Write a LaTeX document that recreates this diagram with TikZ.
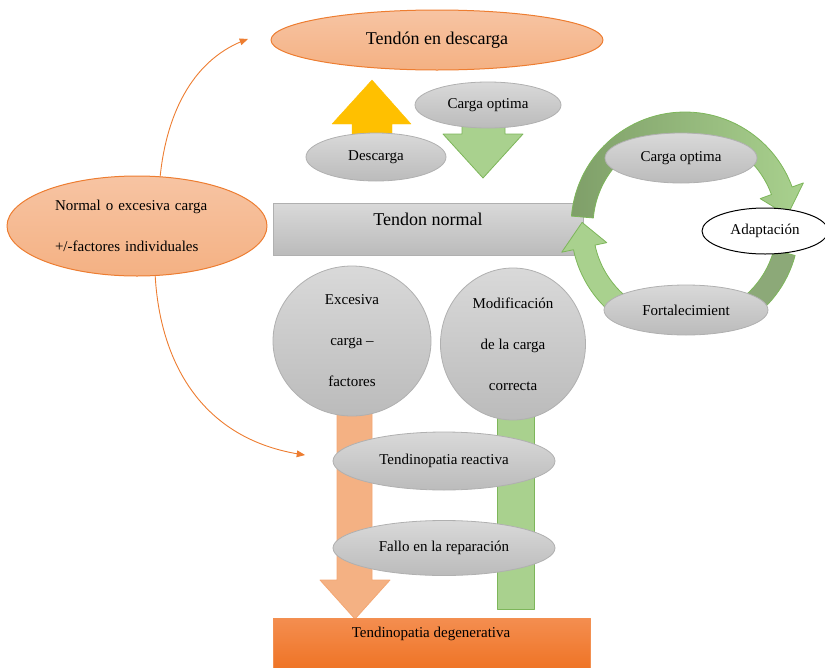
\documentclass[tikz,border=0pt]{standalone}
\usepackage{fontspec}
\setmainfont{Liberation Serif}
\usepackage{tikz}
\usetikzlibrary{arrows,shapes.geometric}

\definecolor{salmon}{HTML}{F4B183}
\definecolor{salmonlt}{HTML}{F7C4A3}
\definecolor{naranjaborde}{HTML}{ED7D31}
\definecolor{naranja}{HTML}{EF7426}
\definecolor{naranjalt}{HTML}{F48E50}
\definecolor{grisclaro}{HTML}{D9D9D9}
\definecolor{grisoscuro}{HTML}{BBBBBB}
\definecolor{grisborde}{HTML}{B0B0B0}
\definecolor{verdeclaro}{HTML}{A9D18E}
\definecolor{verdeborde}{HTML}{7DB65A}
\definecolor{verdeoscuro}{HTML}{7F9F69}
\definecolor{amarillo}{HTML}{FFC000}

\tikzset{
  elnaranja/.style={ellipse, draw=naranjaborde, line width=1pt, top color=salmonlt, bottom color=salmon, inner sep=0pt},
  elgris/.style={ellipse, draw=grisborde, line width=0.8pt, top color=grisclaro, bottom color=grisoscuro, inner sep=0pt},
  txtgrande/.style={font=\fontsize{18}{22}\selectfont},
  txtchico/.style={font=\fontsize{15}{41}\selectfont},
  flechaverde/.style={draw=verdeborde, fill=verdeclaro, line width=0.8pt},
  curva/.style={->, draw=naranjaborde, line width=0.9pt}
}

\begin{document}
\begin{tikzpicture}[line cap=round,line join=round,>=triangle 45,x=1pt,y=-1pt]
\useasboundingbox (0,0) rectangle (825,667);

% flechas de bloque
\draw [draw=amarillo, fill=amarillo] (352,140) -- (352,124) -- (332,124) -- (372,80) -- (411,124) -- (392,124) -- (392,140) -- cycle;
\draw [flechaverde] (462,110) -- (462,134) -- (443,134) -- (483,178) -- (523,134) -- (505,134) -- (505,110) -- cycle;
\draw [draw=salmon!80!naranjaborde, fill=salmon, line width=0.8pt] (337,405) -- (337,580) -- (320,580) -- (355,619) -- (390,580) -- (372,580) -- (372,405) -- cycle;
\draw [flechaverde] (497,410) rectangle (534,609);

\node [rectangle, draw=grisborde, line width=0.8pt, top color=grisclaro, bottom color=grisoscuro, minimum width=310pt, minimum height=52pt] (tnormal) at (428,229) {};
\node [txtgrande] (tnormaltxt) at (428,219) {Tendon normal};

% ciclo
\coordinate (ciclo) at (685,226);
\shadedraw [left color=verdeoscuro, right color=verdeclaro, draw=verdeborde, line width=0.8pt] ([shift={(185:114)}]ciclo) arc[start angle=185, end angle=340, radius=114] -- ([shift={(340:126)}]ciclo) -- ([shift={(354:103)}]ciclo) -- ([shift={(340:80)}]ciclo) -- ([shift={(340:92)}]ciclo) arc[start angle=340, end angle=185, radius=92] -- cycle;
\filldraw [fill=verdeoscuro!90!white, draw=verdeborde, line width=0.8pt] ([shift={(15:114)}]ciclo) arc[start angle=15, end angle=60, radius=114] -- ([shift={(60:92)}]ciclo) arc[start angle=60, end angle=15, radius=92] -- cycle;
\filldraw [flechaverde] ([shift={(125:114)}]ciclo) arc[start angle=125, end angle=168, radius=114] -- ([shift={(168:126)}]ciclo) -- ([shift={(182:103)}]ciclo) -- ([shift={(168:80)}]ciclo) -- ([shift={(168:92)}]ciclo) arc[start angle=168, end angle=125, radius=92] -- cycle;

\node [elnaranja, minimum width=332pt, minimum height=60pt, txtgrande] (endescarga) at (437,40) {Tendón en descarga};
\node [elgris, minimum width=140pt, minimum height=48pt, txtchico] (descarga) at (376,157) {Descarga};
\node [elgris, minimum width=146pt, minimum height=46pt, txtchico] (optima) at (488,105) {Carga optima};
\node [elnaranja, minimum width=260pt, minimum height=100pt, txtchico, align=left, text width=164pt] (normal) at (137,226) {Normal o excesiva carga\\+/-factores individuales};

\node [elgris, minimum width=158pt, minimum height=150pt, txtchico, align=center] (excesiva) at (352,341) {Excesiva\\carga –\\factores};
\node [elgris, minimum width=145pt, minimum height=152pt, txtchico, align=center] (modif) at (513,344) {Modificación\\de la carga\\correcta};
\node [elgris, minimum width=222pt, minimum height=58pt, txtchico] (reactiva) at (444,461) {Tendinopatia reactiva};
\node [elgris, minimum width=222pt, minimum height=55pt, txtchico] (fallo) at (444,548) {Fallo en la reparación};

\node [elgris, minimum width=152pt, minimum height=50pt, txtchico] (optimados) at (681,158) {Carga optima};
\node [elgris, minimum width=164pt, minimum height=50pt, txtchico] (fortal) at (686,310) {Fortalecimient};
\node [ellipse, draw=black, fill=white, line width=1pt, minimum width=126pt, minimum height=46pt, txtchico] (adapt) at (765,231) {Adaptación};

\node [rectangle, draw=naranja!80!white, line width=0.8pt, top color=naranjalt, bottom color=naranja, minimum width=317pt, minimum height=50pt] (degen) at (431.5,643) {};
\node [txtchico] (degentxt) at (431,634) {Tendinopatia degenerativa};

\coordinate (puntaA) at (248,39);
\coordinate (puntaB) at (305,455);
\draw [curva] (normal.65) .. controls (167,110) and (195,58) .. (puntaA);
\draw [curva] (normal.-70) .. controls (160,360) and (200,440) .. (puntaB);
\end{tikzpicture}
\end{document}
